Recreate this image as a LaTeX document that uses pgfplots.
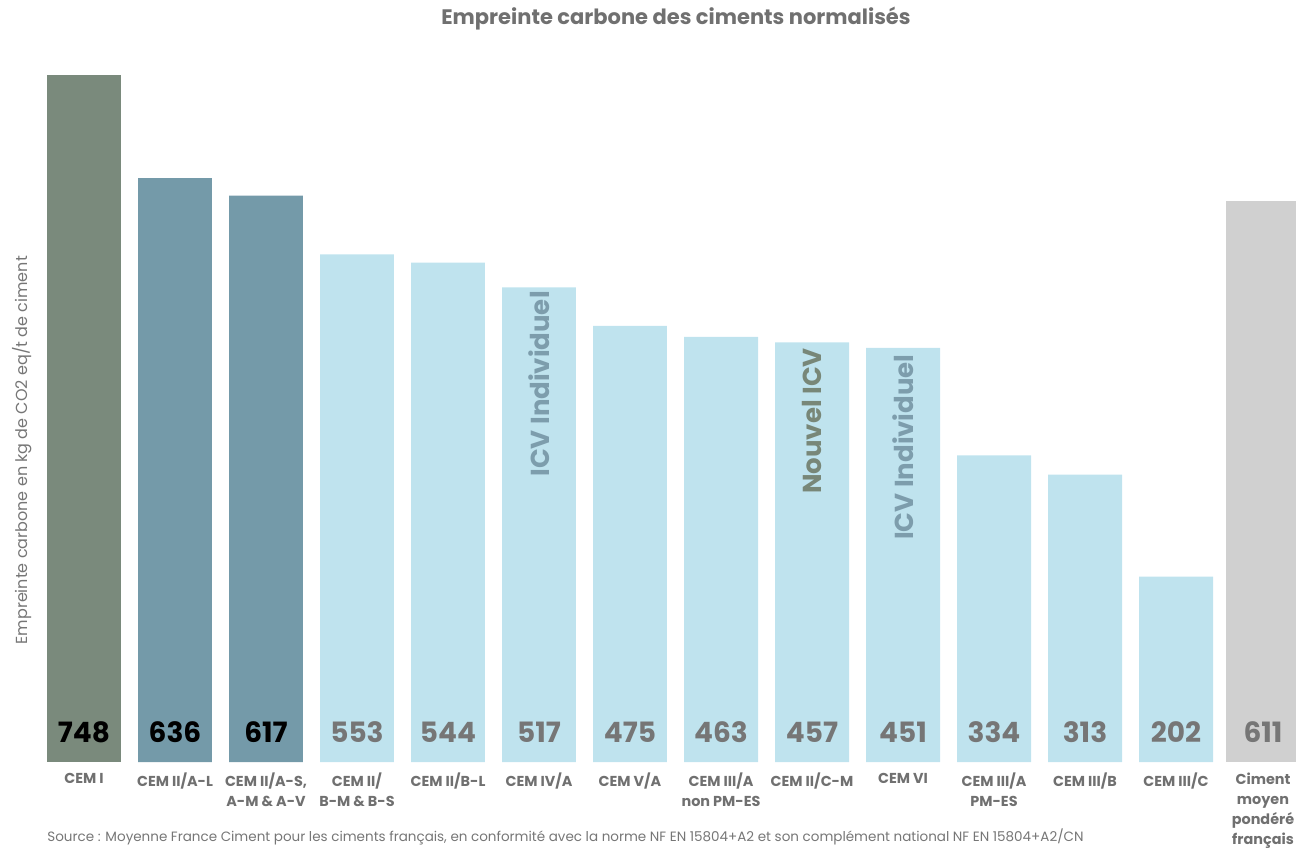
\documentclass[border=0pt]{standalone}
\usepackage{fontspec}
\setmainfont{Poppins}
\usepackage{pgfplots}
\pgfplotsset{compat=1.18}
\definecolor{cemI}{RGB}{122,138,124}
\definecolor{cemII}{RGB}{116,154,169}
\definecolor{light}{RGB}{191,227,238}
\definecolor{avg}{RGB}{208,208,208}
\definecolor{txtgray}{RGB}{112,112,112}
\definecolor{numgray}{RGB}{118,118,118}
\definecolor{icvblue}{RGB}{125,157,172}
\definecolor{icvgreen}{RGB}{120,135,120}
\begin{document}
\begin{tikzpicture}
\path[use as bounding box] (0,-42.5pt) rectangle (648pt,381pt);
\begin{axis}[
  at={(0,0)}, anchor=south west,
  scale only axis, width=648pt, height=343.33pt,
  xmin=-0.9231, xmax=13.3187, ymin=0, ymax=748,
  clip mode=individual,
  axis line style={draw=none}, tick style={draw=none},
  major tick length=0pt,
  ytick=\empty,
  xtick={0,1,2,3,4,5,6,7,8,9,10,11,12,12.956},
  xticklabels={CEM I, CEM II/A-L, {CEM II/A-S,\\A-M \& A-V}, {CEM II/\\B-M \& B-S}, CEM II/B-L, CEM IV/A, CEM V/A, {CEM III/A\\non PM-ES}, CEM II/C-M, CEM VI, {CEM III/A\\PM-ES}, CEM III/B, CEM III/C, {Ciment\\moyen\\pondéré\\français}},
  xticklabel style={align=center, font=\fontsize{7.2}{10}\selectfont\bfseries, text=txtgray, anchor=north, yshift=-2pt},
  every axis title shift=0pt,
  title={Empreinte carbone des ciments normalisés},
  title style={at={(axis description cs:0.5216,1.083)}, anchor=center, font=\fontsize{10.5}{12}\selectfont\bfseries, text=txtgray},
  ylabel={Empreinte carbone en kg de CO2 eq/t de ciment},
  ylabel style={at={(axis description cs:0.017,0.454)}, anchor=center, font=\fontsize{8}{9}\selectfont, text=numgray},
  bar width=0.813,
]
\addplot[ybar, bar shift=0pt, fill=cemI, draw=none] coordinates {(0,748)};
\addplot[ybar, bar shift=0pt, fill=cemII, draw=none] coordinates {(1,636) (2,617)};
\addplot[ybar, bar shift=0pt, fill=light, draw=none] coordinates {(3,553) (4,544) (5,517) (6,475) (7,463) (8,457) (9,451) (10,334) (11,313) (12,202)};
\addplot[ybar, bar shift=0pt, fill=avg, draw=none] coordinates {(12.956,611)};
% value labels
\addplot[draw=none, mark=none, nodes near coords, point meta=explicit symbolic,
  nodes near coords style={anchor=center, font=\fontsize{14}{16}\selectfont\bfseries, text=black}]
  coordinates {(0,32.7)[748] (1,32.7)[636] (2,32.7)[617]};
\addplot[draw=none, mark=none, nodes near coords, point meta=explicit symbolic,
  nodes near coords style={anchor=center, font=\fontsize{14}{16}\selectfont\bfseries, text=numgray}]
  coordinates {(3,32.7)[553] (4,32.7)[544] (5,32.7)[517] (6,32.7)[475] (7,32.7)[463] (8,32.7)[457] (9,32.7)[451] (10,32.7)[334] (11,32.7)[313] (12,32.7)[202] (12.956,32.7)[611]};
% rotated annotations
\addplot[draw=none, mark=none, nodes near coords, point meta=explicit symbolic,
  nodes near coords style={anchor=center, rotate=90, font=\fontsize{13}{15}\selectfont\bfseries, text=icvblue}]
  coordinates {(5,411.8)[ICV Individuel] (9,343)[ICV Individuel]};
\addplot[draw=none, mark=none, nodes near coords, point meta=explicit symbolic,
  nodes near coords style={anchor=center, rotate=90, font=\fontsize{13}{15}\selectfont\bfseries, text=icvgreen}]
  coordinates {(8,371.5)[Nouvel ICV]};
\end{axis}
\node[anchor=west, font=\fontsize{6.75}{8}\selectfont, text=numgray, inner sep=0pt] at (23.5pt,-37.5pt) {Source : Moyenne France Ciment pour les ciments français, en conformité avec la norme NF EN 15804+A2 et son complément national NF EN 15804+A2/CN};
\end{tikzpicture}
\end{document}
